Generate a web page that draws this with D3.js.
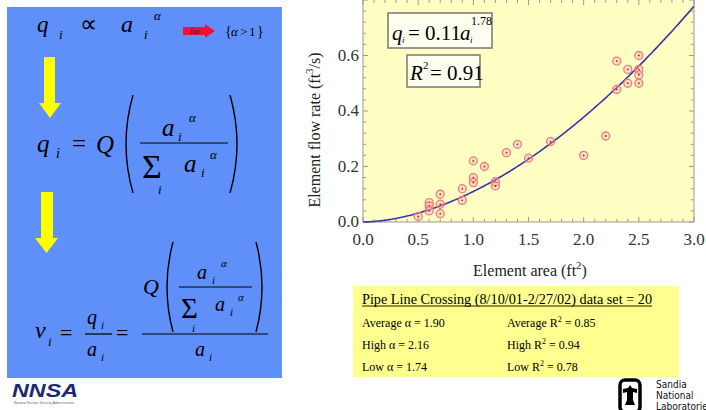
<!DOCTYPE html>
<html>
<head>
<meta charset="utf-8">
<script src="https://cdn.jsdelivr.net/npm/d3@7"></script>
<style>
body { margin: 0; background: #fff; }
svg { display: block; font-family: "Liberation Serif", "Times New Roman", serif; }
</style>
</head>
<body>
<svg width="706" height="410"></svg>
<script>
// data
var area = [0.5, 0.6, 0.6, 0.6, 0.7, 0.7, 0.7, 0.9, 0.9, 1.0, 1.0, 1.0, 1.1, 1.2, 1.2,
            1.3, 1.4, 1.5, 1.7, 2.0, 2.2, 2.3, 2.3, 2.4, 2.4, 2.5, 2.5, 2.5, 2.5];
var flow = [0.02, 0.07, 0.058, 0.04, 0.10, 0.064, 0.03, 0.12, 0.078, 0.22, 0.16, 0.142, 0.20, 0.145, 0.13,
            0.25, 0.28, 0.23, 0.29, 0.24, 0.31, 0.58, 0.478, 0.55, 0.50, 0.60, 0.55, 0.53, 0.50];
var xTicks = [0, 0.5, 1.0, 1.5, 2.0, 2.5, 3.0];
var yTicks = [0, 0.2, 0.4, 0.6];
var fitCoef = 0.11, fitExp = 1.78, fitR2 = 0.91;
var statNames = ["Average", "High", "Low"];
var alphaVals = ["1.90", "2.16", "1.74"];
var r2Vals = ["0.85", "0.94", "0.78"];

var svg = d3.select('svg');
var sans = '"Liberation Sans", Arial, sans-serif';

// little helper for math text
function t(x, y, s, size, italic, anchor) {
	return svg.append('text')
		.attr('x', x).attr('y', y)
		.attr('font-size', size)
		.attr('font-style', italic ? 'italic' : 'normal')
		.attr('text-anchor', anchor || 'start')
		.text(s);
}
function hline(x1, x2, y, w) {
	svg.append('line').attr('x1', x1).attr('x2', x2).attr('y1', y).attr('y2', y)
		.attr('stroke', '#000').attr('stroke-width', w || 1.2);
}
function paren(x1, xm, y1, y2) {
	svg.append('path')
		.attr('d', 'M' + x1 + ',' + y1 + ' Q' + xm + ',' + ((y1 + y2) / 2) + ' ' + x1 + ',' + y2)
		.attr('fill', 'none').attr('stroke', '#000').attr('stroke-width', 1.4);
}
function downArrow(x1, x2, y1, y2, hx1, hx2, tipY) {
	var mx = (hx1 + hx2) / 2;
	svg.append('path')
		.attr('d', 'M' + x1 + ',' + y1 + 'L' + x2 + ',' + y1 + 'L' + x2 + ',' + y2 + 'L' + hx2 + ',' + y2 +
			'L' + mx + ',' + tipY + 'L' + hx1 + ',' + y2 + 'L' + x1 + ',' + y2 + 'Z')
		.attr('fill', '#ffff00');
}

// ---- left equation panel ----
svg.append('rect').attr('x', 7).attr('y', 7).attr('width', 275).attr('height', 371).attr('fill', '#5f8ff8');

t(37, 32, 'q', 23, true);
t(59, 39, 'i', 13, true);
t(80, 32, '\u221D', 24, false);
t(121, 32, 'a', 24, true);
t(144, 39, 'i', 13, true);
t(154, 20, '\u03B1', 13, true);
svg.append('path')
	.attr('d', 'M183,27L205,27L205,24L215,31L205,38L205,35L183,35Z')
	.attr('fill', '#f0103a');
t(195, 34, 'for', 8, false, 'middle').attr('fill', '#222');
t(225, 36, '{', 14, false);
t(231, 36, '\u03B1', 13, true);
t(240, 36, '>', 13, false);
t(249, 36, '1', 13, false);
t(257, 36, '}', 14, false);

downArrow(44, 55, 57, 103, 39, 61, 118);

t(37, 152, 'q', 25, true);
t(56, 158, 'i', 14, true);
t(72, 152, '=', 25, false);
t(96, 153, 'Q', 25, true);
paren(133, 119, 95, 193);
t(162, 136, 'a', 25, true);
t(178, 141, 'i', 13, true);
t(189, 122, '\u03B1', 13, true);
hline(140, 228, 143);
t(142, 178, '\u03A3', 34, false);
t(158, 194, 'i', 13, true);
t(184, 172, 'a', 25, true);
t(201, 177, 'i', 13, true);
t(210, 159, '\u03B1', 13, true);
paren(230, 244, 95, 193);

downArrow(41, 53, 192, 238, 35, 58, 253);

t(35, 338, 'v', 24, true);
t(48, 346, 'i', 13, true);
t(60, 340, '=', 22, false);
t(87, 324, 'q', 20, true);
t(101, 329, 'i', 11, true);
hline(85, 112, 334);
t(87, 356, 'a', 20, true);
t(101, 361, 'i', 11, true);
t(116, 340, '=', 22, false);
hline(142, 268, 334);
t(195, 356, 'a', 20, true);
t(209, 361, 'i', 11, true);
t(143, 294, 'Q', 22, true);
paren(173, 161, 242, 332);
t(197, 279, 'a', 20, true);
t(212, 284, 'i', 11, true);
t(221, 267, '\u03B1', 11, true);
hline(179, 252, 287);
t(181, 318, '\u03A3', 29, false);
t(192, 332, 'i', 11, true);
t(215, 311, 'a', 20, true);
t(230, 316, 'i', 11, true);
t(238, 301, '\u03B1', 11, true);
paren(256, 268, 242, 332);

// ---- scatter chart ----
var x = d3.scaleLinear().domain([0, 3]).range([363, 694]);
var y = d3.scaleLinear().domain([0, 0.8]).range([222, 0]);

svg.append('rect').attr('x', 363).attr('y', 0).attr('width', 331).attr('height', 222)
	.attr('fill', '#ffffc4');

var frame = svg.append('g').attr('stroke', '#999').attr('stroke-width', 1);
frame.append('line').attr('x1', 363).attr('x2', 363).attr('y1', 0).attr('y2', 222);
frame.append('line').attr('x1', 363).attr('x2', 694).attr('y1', 222).attr('y2', 222);
frame.append('line').attr('x1', 694).attr('x2', 694).attr('y1', 0).attr('y2', 222);

// inward ticks on all four sides
x.ticks(30).forEach(function(v) {
	var len = xTicks.indexOf(+v.toFixed(1)) >= 0 ? 5 : 3;
	frame.append('line').attr('x1', x(v)).attr('x2', x(v)).attr('y1', 222).attr('y2', 222 - len);
	frame.append('line').attr('x1', x(v)).attr('x2', x(v)).attr('y1', 0).attr('y2', len);
});
d3.range(0, 0.81, 0.04).forEach(function(v) {
	var len = Math.abs(v * 5 - Math.round(v * 5)) < 1e-6 ? 5 : 3;
	frame.append('line').attr('x1', 363).attr('x2', 363 + len).attr('y1', y(v)).attr('y2', y(v));
	frame.append('line').attr('x1', 694).attr('x2', 694 - len).attr('y1', y(v)).attr('y2', y(v));
});

svg.append('g').selectAll('text').data(xTicks).enter().append('text')
	.attr('x', function(d) { return x(d); }).attr('y', 245)
	.attr('text-anchor', 'middle').attr('font-size', 17).attr('fill', '#333')
	.text(function(d) { return d3.format('.1f')(d); });
svg.append('g').selectAll('text').data(yTicks).enter().append('text')
	.attr('x', 359).attr('y', function(d) { return y(d) + 5; })
	.attr('text-anchor', 'end').attr('font-size', 17).attr('fill', '#333')
	.text(function(d) { return d3.format('.1f')(d); });

// axis titles
var xl = svg.append('text').attr('x', 530).attr('y', 276).attr('text-anchor', 'middle')
	.attr('font-size', 16).attr('fill', '#222');
xl.append('tspan').text('Element area (ft');
xl.append('tspan').attr('dy', -7).attr('font-size', 11).text('2');
xl.append('tspan').attr('dy', 7).text(')');

var yl = svg.append('text').attr('transform', 'translate(320,130) rotate(-90)')
	.attr('text-anchor', 'middle').attr('font-size', 16).attr('fill', '#222');
yl.append('tspan').text('Element flow rate (ft');
yl.append('tspan').attr('dy', -7).attr('font-size', 11).text('3');
yl.append('tspan').attr('dy', 7).text('/s)');

// fitted curve from the equation shown in the chart
var curve = d3.line()
	.x(function(d) { return x(d); })
	.y(function(d) { return y(fitCoef * Math.pow(d, fitExp)); });
svg.append('path').datum(d3.range(0, 3.001, 0.02))
	.attr('d', curve).attr('fill', 'none').attr('stroke', '#3a34a8').attr('stroke-width', 1.6);

var pts = svg.append('g').selectAll('g').data(area).enter().append('g')
	.attr('transform', function(d, i) { return 'translate(' + x(d) + ',' + y(flow[i]) + ')'; });
pts.append('circle').attr('r', 4).attr('fill', 'rgba(255,170,170,0.35)')
	.attr('stroke', '#f07a80').attr('stroke-width', 1.3);
pts.append('circle').attr('r', 0.9).attr('fill', '#b02030');

// equation boxes
function box(x0, y0, w, h) {
	svg.append('rect').attr('x', x0).attr('y', y0).attr('width', w).attr('height', h)
		.attr('fill', '#fffff0').attr('stroke', '#777').attr('stroke-width', 1.5);
}
box(388, 13, 104, 35);
t(392, 40, 'q', 21, true);
t(402, 43, 'i', 9, true);
t(408, 40, '= 0.11', 21, false);
t(460, 40, 'a', 21, true);
t(470, 43, 'i', 9, true);
t(471, 25, String(fitExp), 12, false);
box(407, 55, 73, 32);
t(410, 80, 'R', 21, true);
t(423, 69, '2', 11, false);
t(430, 80, '= ' + fitR2, 21, false);

// ---- stats table ----
svg.append('rect').attr('x', 353).attr('y', 286).attr('width', 326).attr('height', 91).attr('fill', '#ffff90');
var title = t(362, 304, 'Pipe Line Crossing (8/10/01-2/27/02) data set = 20', 14, false);
title.attr('textLength', 290).attr('lengthAdjust', 'spacingAndGlyphs');
hline(362, 652, 306, 0.9);
statNames.forEach(function(n, i) {
	var yy = 327 + i * 22;
	t(362, yy, n + ' \u03B1 = ' + alphaVals[i], 12, false);
	var r = svg.append('text').attr('x', 507).attr('y', yy).attr('font-size', 12);
	r.append('tspan').text(n + ' R');
	r.append('tspan').attr('dy', -5).attr('font-size', 8).text('2');
	r.append('tspan').attr('dy', 5).text(' = ' + r2Vals[i]);
});

// ---- logos ----
svg.append('text').attr('x', 12).attr('y', 397)
	.style('font-family', sans)
	.attr('font-weight', 'bold').attr('font-style', 'italic').attr('font-size', 19)
	.attr('fill', '#1c2a70').attr('textLength', 66).attr('lengthAdjust', 'spacingAndGlyphs')
	.text('NNSA');
svg.append('text').attr('x', 14).attr('y', 404)
	.style('font-family', sans).attr('font-size', 3)
	.attr('fill', '#555').attr('textLength', 60).text('National Nuclear Security Administration');

svg.append('rect').attr('x', 620).attr('y', 380).attr('width', 20).attr('height', 32).attr('rx', 5)
	.attr('fill', '#fff').attr('stroke', '#000').attr('stroke-width', 3.5);
svg.append('path')
	.attr('d', 'M630,385 L632,388 L637,389 L637,393 L633,392 L633,400 L635,405 L625,405 L627,400 L627,392 L623,393 L623,389 L628,388 Z')
	.attr('fill', '#000');
['Sandia', 'National', 'Laboratories'].forEach(function(s, i) {
	svg.append('text').attr('x', 656).attr('y', 388 + i * 11)
		.style('font-family', '"DejaVu Sans Condensed", "DejaVu Sans", sans-serif')
		.style('font-stretch', 'condensed').attr('font-size', 10).attr('fill', '#111')
		.text(s);
});
</script>
</body>
</html>
